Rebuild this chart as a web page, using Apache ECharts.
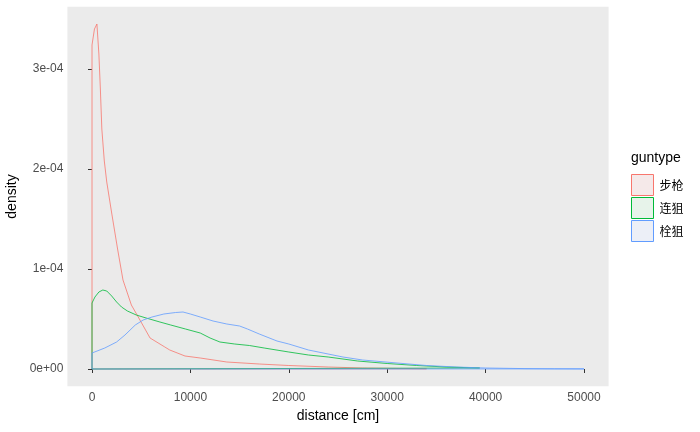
<!DOCTYPE html>
<html>
<head>
<meta charset="utf-8">
<script src="https://cdn.jsdelivr.net/npm/echarts@6/dist/echarts.min.js"></script>
<style>
  html, body { margin: 0; padding: 0; background: #ffffff; }
  #chart { width: 700px; height: 432px; }
</style>
</head>
<body>
<div id="chart"></div>
<script>
// gun types, in legend order
const gunTypes = ['步枪', '连狙', '栓狙'];
const lineColors = ['#F8766D', '#00BA38', '#619CFF'];
const keyFills = ['#F5E9E9', '#E7F3EA', '#ECEFF7'];

// density curves (x in cm, y in 1e-4)
const rifleX = [0, 250, 500, 700, 850, 1000, 1250, 1500, 2000, 2600, 3150, 4000, 4700, 5900, 7400, 7900, 9450, 11000, 13700, 17000, 20000, 24000, 27500, 30000, 33000, 34000];
const rifleY = [3.24, 3.40, 3.45, 3.15, 2.80, 2.40, 2.08, 1.87, 1.56, 1.20, 0.89, 0.64, 0.52, 0.31, 0.22, 0.19, 0.13, 0.11, 0.07, 0.05, 0.035, 0.02, 0.01, 0.007, 0.003, 0.002];

const semiX = [0, 300, 700, 1100, 1500, 2000, 2500, 3000, 3600, 4500, 5500, 6900, 8000, 9500, 11000, 12000, 13000, 14500, 16000, 17500, 20000, 22000, 24000, 27000, 30000, 33000, 36000, 39400];
const semiY = [0.66, 0.72, 0.77, 0.79, 0.78, 0.73, 0.67, 0.62, 0.58, 0.54, 0.51, 0.47, 0.44, 0.40, 0.36, 0.31, 0.27, 0.25, 0.235, 0.21, 0.17, 0.14, 0.12, 0.08, 0.055, 0.035, 0.02, 0.01];

const boltX = [0, 1300, 2500, 3350, 4400, 5200, 6100, 7300, 8500, 9250, 10000, 11000, 12300, 13700, 15000, 15800, 17000, 18800, 20000, 22000, 25500, 27500, 31000, 34000, 37000, 40000, 44000, 47000, 50000];
const boltY = [0.16, 0.21, 0.27, 0.34, 0.44, 0.49, 0.52, 0.55, 0.565, 0.57, 0.55, 0.52, 0.48, 0.45, 0.43, 0.40, 0.35, 0.28, 0.25, 0.19, 0.12, 0.09, 0.06, 0.035, 0.02, 0.01, 0.004, 0.002, 0.001];

// axis ticks
const xTicks = [0, 10000, 20000, 30000, 40000, 50000];
const yTicks = [0, 1e-4, 2e-4, 3e-4];
const yTickLabels = ['0e+00', '1e-04', '2e-04', '3e-04'];

const curves = [[rifleX, rifleY], [semiX, semiY], [boltX, boltY]];

// closed polygon like geom_density: up at the start, down at the end, back along the base
function polygon(xs, ys) {
  const pts = [[xs[0], 0]];
  xs.forEach((x, i) => pts.push([x, ys[i] * 1e-4]));
  pts.push([xs[xs.length - 1], 0]);
  pts.push([xs[0], 0]);
  return pts;
}

const chart = echarts.init(document.getElementById('chart'));

const series = gunTypes.map((name, i) => ({
  name: name,
  type: 'line',
  data: polygon(curves[i][0], curves[i][1]),
  showSymbol: false,
  symbol: 'none',
  lineStyle: { color: lineColors[i], width: 0.8 },
  itemStyle: { color: lineColors[i] },
  areaStyle: { color: lineColors[i], opacity: 0.005 },
  silent: true
}));

const option = {
  animation: false,
  backgroundColor: '#ffffff',
  title: {
    text: 'guntype',
    left: 631,
    top: 151,
    textStyle: {
      fontFamily: 'Liberation Sans, Arial, sans-serif',
      fontSize: 14,
      fontWeight: 'normal',
      color: '#000000'
    },
    padding: 0
  },
  legend: {
    orient: 'vertical',
    left: 631,
    top: 174,
    padding: 0,
    icon: 'rect',
    itemWidth: 22,
    itemHeight: 21,
    itemGap: 1,
    textStyle: {
      fontFamily: 'Noto Sans CJK SC, sans-serif',
      fontSize: 12,
      color: '#000000',
      padding: [0, 0, 0, 1]
    },
    data: gunTypes.map((name, i) => ({
      name: name,
      itemStyle: { color: keyFills[i], borderColor: lineColors[i], borderWidth: 1 }
    })),
    selectedMode: false
  },
  grid: {
    left: 67.4,
    right: 91.4,
    top: 6.75,
    bottom: 45.75,
    outerBoundsMode: 'none',
    containLabel: false,
    show: true,
    backgroundColor: '#EBEBEB',
    borderWidth: 0
  },
  xAxis: {
    type: 'value',
    min: -2500,
    max: 52500,
    name: 'distance [cm]',
    nameLocation: 'middle',
    nameGap: 23,
    nameTextStyle: { fontFamily: 'Liberation Sans, Arial, sans-serif', fontSize: 14, color: '#000000' },
    axisLine: { show: false },
    splitLine: { show: false },
    axisTick: {
      show: true,
      customValues: xTicks,
      length: 4,
      lineStyle: { color: '#333333', width: 1 }
    },
    axisLabel: {
      customValues: xTicks,
      margin: 5,
      fontFamily: 'Liberation Sans, Arial, sans-serif',
      fontSize: 12,
      color: '#4D4D4D',
      formatter: v => String(v)
    }
  },
  yAxis: {
    type: 'value',
    min: -0.1725e-4,
    max: 3.6225e-4,
    name: 'density',
    nameLocation: 'middle',
    nameRotate: 90,
    nameGap: 45,
    nameTextStyle: { fontFamily: 'Liberation Sans, Arial, sans-serif', fontSize: 14, color: '#000000' },
    axisLine: { show: false },
    splitLine: { show: false },
    axisTick: {
      show: true,
      customValues: yTicks,
      length: 4,
      lineStyle: { color: '#333333', width: 1 }
    },
    axisLabel: {
      customValues: yTicks,
      margin: 4,
      fontFamily: 'Liberation Sans, Arial, sans-serif',
      fontSize: 12,
      color: '#4D4D4D',
      formatter: v => {
        const k = yTicks.findIndex(t => Math.abs(t - v) < 1e-9);
        return k >= 0 ? yTickLabels[k] : '';
      }
    }
  },
  series: series
};

chart.setOption(option);
</script>
</body>
</html>
